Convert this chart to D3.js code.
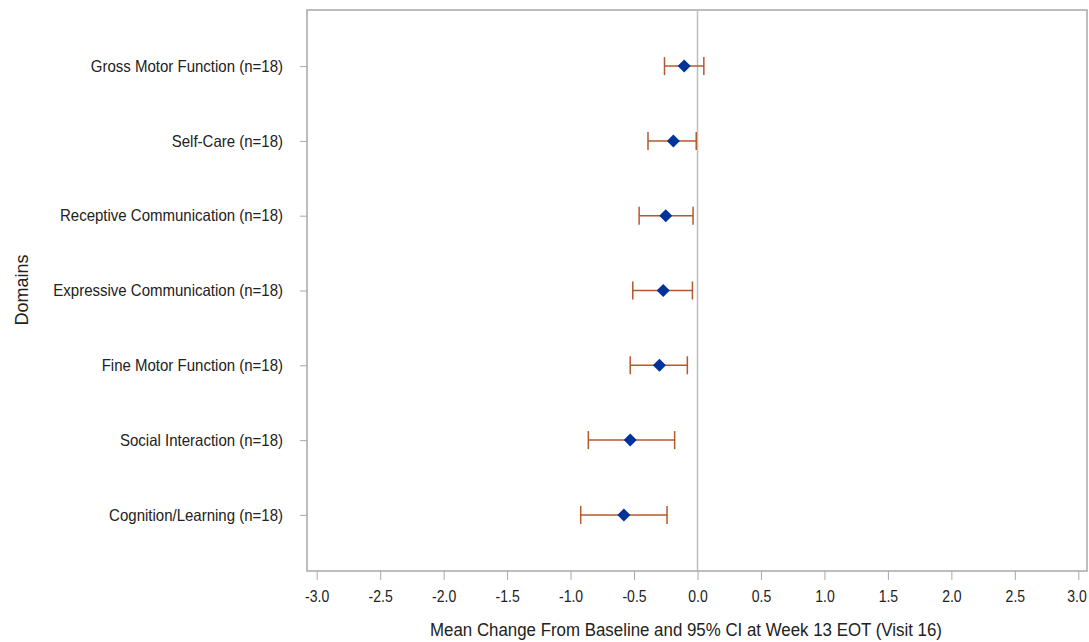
<!DOCTYPE html>
<html><head><meta charset="utf-8">
<script src="https://cdn.jsdelivr.net/npm/d3@7"></script>
<style>body{margin:0;background:#fff}svg{display:block}</style>
</head><body>
<svg id="c" width="1089" height="642"></svg>
<script>
const domains = ["Gross Motor Function (n=18)","Self-Care (n=18)","Receptive Communication (n=18)","Expressive Communication (n=18)","Fine Motor Function (n=18)","Social Interaction (n=18)","Cognition/Learning (n=18)"];
const means = [-0.105,-0.19,-0.25,-0.27,-0.30,-0.53,-0.58];
const lower = [-0.26,-0.39,-0.46,-0.51,-0.53,-0.86,-0.92];
const upper = [0.05,-0.01,-0.035,-0.04,-0.08,-0.18,-0.24];
const xTicks = [-3.0,-2.5,-2.0,-1.5,-1.0,-0.5,0.0,0.5,1.0,1.5,2.0,2.5,3.0];

const svg = d3.select("#c");
const L=307, R=1087, T=10, B=571;
const x = d3.scaleLinear().domain([-3,3]).range([316.7,1078.3]);
const y = d3.scalePoint().domain(domains).range([T,B]).padding(0.75);
const font = "'Liberation Sans',Arial,sans-serif";

// condense text: bigger glyphs, squeezed horizontally
function condense(sel, factor){
  sel.each(function(){
    const w = this.getComputedTextLength();
    d3.select(this).attr("textLength", w*factor).attr("lengthAdjust","spacingAndGlyphs");
  });
}

// frame
svg.append("rect").attr("x",L).attr("y",T).attr("width",R-L).attr("height",B-T)
  .attr("fill","none").attr("stroke","#a8a8a8").attr("stroke-width",1.5);
// zero reference
svg.append("line").attr("x1",x(0)).attr("x2",x(0)).attr("y1",T).attr("y2",B)
  .attr("stroke","#bdbdbd").attr("stroke-width",1.5);

// x axis
const xa = svg.append("g").attr("transform",`translate(0,${B})`)
  .call(d3.axisBottom(x).tickValues(xTicks).tickFormat(d3.format(".1f")).tickSize(9).tickPadding(10));
xa.select(".domain").remove();
xa.selectAll("line").attr("stroke","#a8a8a8");
xa.selectAll("text").attr("font-family",font).attr("font-size",16.5).attr("fill","#222")
  .text(d=>d3.format(".1f")(d).replace("−","-"));
condense(xa.selectAll("text"), 0.85);
xa.selectAll("text").filter(d=>d===3).attr("text-anchor","end").attr("dx",8);

// y axis
const ya = svg.append("g").attr("transform",`translate(${L},0)`)
  .call(d3.axisLeft(y).tickSize(7).tickPadding(17));
ya.select(".domain").remove();
ya.selectAll("line").attr("stroke","#a8a8a8");
ya.selectAll("text").attr("font-family",font).attr("font-size",16.5).attr("fill","#222");
condense(ya.selectAll("text"), 15/16.5);

// titles
const xt = svg.append("text").attr("x",686).attr("y",636).attr("text-anchor","middle")
  .attr("font-family",font).attr("font-size",17.5).attr("fill","#222")
  .text("Mean Change From Baseline and 95% CI at Week 13 EOT (Visit 16)");
xt.attr("textLength",512).attr("lengthAdjust","spacingAndGlyphs");
svg.append("text").attr("transform","translate(28,290) rotate(-90)").attr("text-anchor","middle")
  .attr("font-family",font).attr("font-size",18).attr("fill","#222")
  .text("Domains");

// error bars
const eb = svg.append("g").attr("stroke","#b4582e").attr("stroke-width",1.5).attr("fill","none");
domains.forEach((d,i)=>{
  const cy=y(d);
  eb.append("line").attr("x1",x(lower[i])).attr("x2",x(upper[i])).attr("y1",cy).attr("y2",cy);
  eb.append("line").attr("x1",x(lower[i])).attr("x2",x(lower[i])).attr("y1",cy-9).attr("y2",cy+9);
  eb.append("line").attr("x1",x(upper[i])).attr("x2",x(upper[i])).attr("y1",cy-9).attr("y2",cy+9);
});
// diamonds
const sym = d3.symbol().type(d3.symbolSquare).size(85);
svg.append("g").selectAll("path").data(domains).join("path")
  .attr("d",sym).attr("fill","#003399")
  .attr("transform",(d,i)=>`translate(${x(means[i])},${y(d)}) rotate(45)`);
</script>
</body></html>
